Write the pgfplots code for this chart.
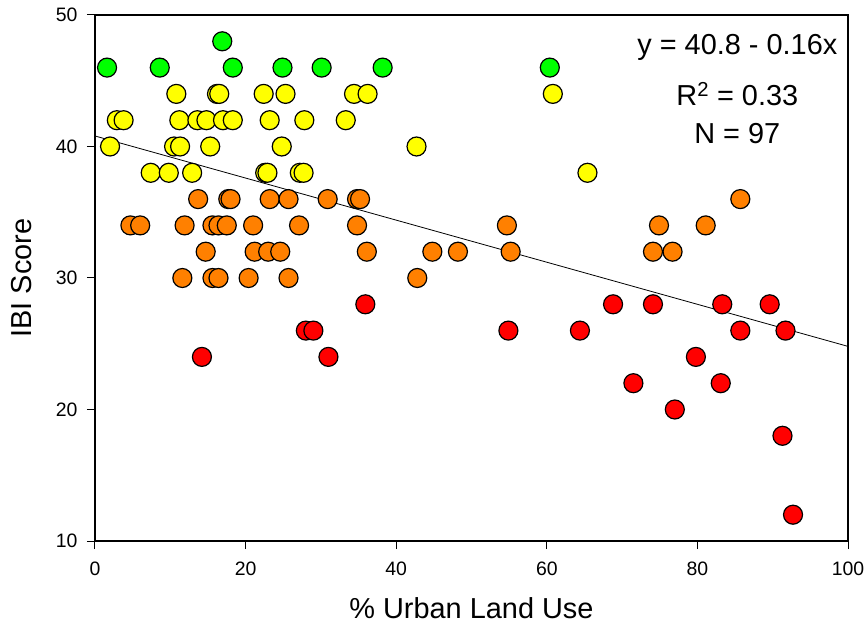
\documentclass[border=0pt]{standalone}
\usepackage{pgfplots}
\pgfplotsset{compat=1.18}
\usepackage{fontspec}
\setmainfont{Liberation Sans}
\definecolor{cgreen}{RGB}{0,255,0}
\definecolor{cyellow}{RGB}{255,255,0}
\definecolor{corange}{RGB}{255,128,0}
\definecolor{cred}{RGB}{255,0,0}
\begin{document}
\begin{tikzpicture}
\begin{axis}[
  scale only axis,
  width=753bp, height=526bp,
  xmin=0, xmax=100, ymin=10, ymax=50,
  xtick={0,20,...,100}, ytick={10,20,...,50},
  tick align=outside,
  major tick length=8bp,
  xtick pos=bottom, ytick pos=left,
  axis line style={line width=1.2bp},
  tick style={line width=1bp, black},
  /pgf/number format/assume math mode=true,
  every tick label/.append style={font=\fontsize{19.5}{22}\selectfont},
  xticklabel style={yshift=-9bp},
  yticklabel style={xshift=-6bp},
  xlabel={\% Urban Land Use},
  ylabel={IBI Score},
  every axis label/.append style={font=\fontsize{29}{34}\selectfont},
  xlabel style={at={(axis description cs:0.5,0)}, anchor=center, yshift=-67bp},
  ylabel style={at={(axis description cs:-0.097,0.5)}, anchor=center, rotate=0},
  clip=false,
]
\addplot[only marks, mark=*, mark size=9.5bp, mark options={fill=cgreen, draw=black, line width=1.2bp}] coordinates {
(1.6,46) (8.6,46) (16.9,48) (18.3,46) (24.9,46) (30.1,46) (38.2,46) (60.4,46)
};
\addplot[only marks, mark=*, mark size=9.5bp, mark options={fill=cyellow, draw=black, line width=1.2bp}] coordinates {
(10.8,44) (16.2,44) (16.5,44) (22.4,44) (25.3,44) (34.4,44) (36.2,44) (60.8,44)
(2.9,42) (3.8,42) (11.2,42) (13.6,42) (14.8,42) (17.0,42) (18.3,42) (23.2,42) (27.8,42) (33.3,42)
(2.0,40) (10.5,40) (11.3,40) (15.3,40) (24.8,40) (42.7,40)
(7.4,38) (9.8,38) (12.9,38) (22.6,38) (22.9,38) (27.2,38) (27.7,38) (65.4,38)
};
\addplot[only marks, mark=*, mark size=9.5bp, mark options={fill=corange, draw=black, line width=1.2bp}] coordinates {
(13.7,36) (17.7,36) (18.0,36) (23.2,36) (25.7,36) (30.9,36) (34.8,36) (35.2,36) (85.7,36)
(4.7,34) (6.0,34) (11.9,34) (15.6,34) (16.4,34) (17.5,34) (21.0,34) (27.1,34) (34.8,34) (54.7,34) (74.9,34) (81.1,34)
(14.7,32) (21.2,32) (23.0,32) (24.6,32) (36.1,32) (44.8,32) (48.2,32) (55.2,32) (74.1,32) (76.7,32)
(11.6,30) (15.6,30) (16.4,30) (20.4,30) (25.7,30) (42.8,30)
};
\addplot[only marks, mark=*, mark size=9.5bp, mark options={fill=cred, draw=black, line width=1.2bp}] coordinates {
(35.9,28) (68.8,28) (74.1,28) (83.3,28) (89.6,28)
(28.0,26) (29.0,26) (54.9,26) (64.4,26) (85.7,26) (91.7,26)
(14.2,24) (31.0,24) (79.8,24)
(71.5,22) (83.1,22)
(77.0,20)
(91.3,18)
(92.7,12)
};
\addplot[black, line width=0.8bp, no marks] coordinates {(0,40.8) (100,24.8)};
\node[font=\fontsize{29}{34}\selectfont, anchor=center] at (axis cs:85.3,47.5) {y = 40.8 - 0.16x};
\node[font=\fontsize{29}{34}\selectfont, anchor=center] at (axis cs:85.3,44.0) {R\textsuperscript{2} = 0.33};
\node[font=\fontsize{29}{34}\selectfont, anchor=center] at (axis cs:85.3,41.0) {N = 97};
\coordinate (SW) at (rel axis cs:0,0);
\coordinate (NE) at (rel axis cs:1,1);
\end{axis}
\pgfresetboundingbox
\path[use as bounding box] ([shift={(-95bp,-85bp)}]SW) rectangle ([shift={(18bp,15bp)}]NE);
\end{tikzpicture}
\end{document}
